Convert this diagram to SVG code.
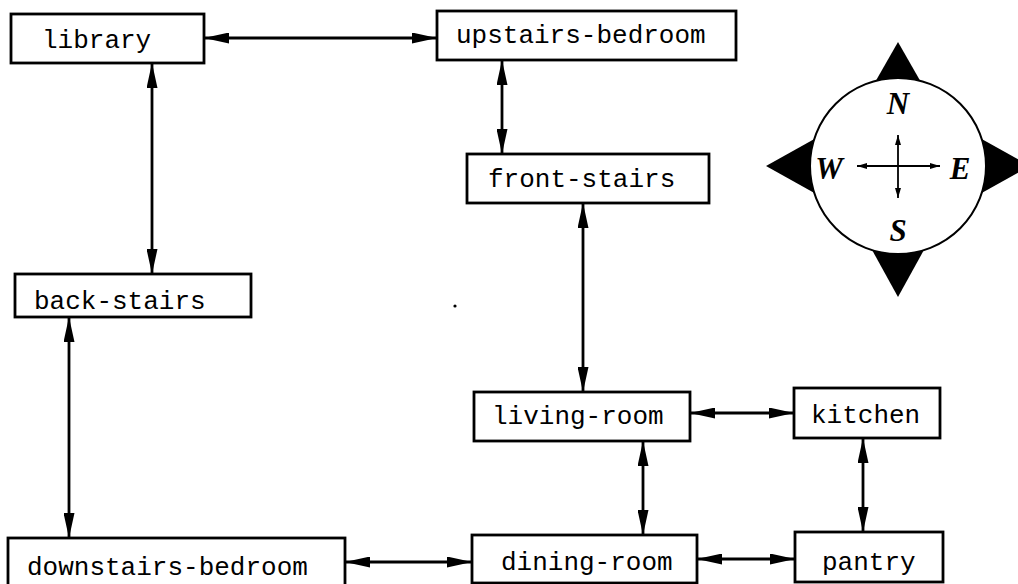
<svg xmlns="http://www.w3.org/2000/svg" width="1018" height="584" viewBox="0 0 1018 584">
  <style>
    .room rect { fill: #fff; stroke: #000; stroke-width: 2.8; }
    .room text { font-family: "Liberation Mono", "Courier New", monospace; font-size: 26px; fill: #000; }
    .link { stroke: #000; stroke-width: 2.8; fill: none; marker-start: url(#head); marker-end: url(#head); }
    .dir { font-family: "Liberation Serif", "Times New Roman", serif; font-weight: bold; font-style: italic; font-size: 31px; fill: #000; text-anchor: middle; }
    .cross { stroke: #000; stroke-width: 1.8; fill: none; marker-start: url(#small); marker-end: url(#small); }
  </style>
  <defs>
    <marker id="head" markerUnits="userSpaceOnUse" markerWidth="25" markerHeight="11" refX="25" refY="5.5" orient="auto-start-reverse">
      <path d="M0,0 L25,5.5 L0,11 Z" fill="#000"/>
    </marker>
    <marker id="small" markerUnits="userSpaceOnUse" markerWidth="10" markerHeight="6" refX="10" refY="3" orient="auto-start-reverse">
      <path d="M0,0 L10,3 L0,6 Z" fill="#000"/>
    </marker>
  </defs>
  <rect width="1018" height="584" fill="#fff"/>

  <!-- connectors between rooms -->
  <g id="connectors">
    <line class="link" x1="204" y1="38" x2="437" y2="38"/>
    <line class="link" x1="152" y1="63" x2="152" y2="274"/>
    <line class="link" x1="502" y1="60" x2="502" y2="154"/>
    <line class="link" x1="583" y1="203" x2="583" y2="392"/>
    <line class="link" x1="69" y1="317" x2="69" y2="538"/>
    <line class="link" x1="345" y1="562" x2="472" y2="562"/>
    <line class="link" x1="690" y1="413" x2="794" y2="413"/>
    <line class="link" x1="643" y1="441" x2="643" y2="535"/>
    <line class="link" x1="863" y1="438" x2="863" y2="532"/>
    <line class="link" x1="697" y1="559" x2="795" y2="559"/>
  </g>

  <!-- rooms -->
  <g id="library" class="room">
    <rect x="11" y="14" width="193" height="49"/>
    <text x="42" y="48">library</text>
  </g>
  <g id="upstairs-bedroom" class="room">
    <rect x="437" y="11" width="299" height="49"/>
    <text x="456" y="43">upstairs-bedroom</text>
  </g>
  <g id="front-stairs" class="room">
    <rect x="467" y="154" width="242" height="49"/>
    <text x="488" y="187">front-stairs</text>
  </g>
  <g id="back-stairs" class="room">
    <rect x="15" y="274" width="236" height="43"/>
    <text x="34" y="309">back-stairs</text>
  </g>
  <g id="downstairs-bedroom" class="room">
    <rect x="8" y="538" width="337" height="50"/>
    <text x="27" y="575">downstairs-bedroom</text>
  </g>
  <g id="living-room" class="room">
    <rect x="474" y="392" width="216" height="49"/>
    <text x="492" y="424">living-room</text>
  </g>
  <g id="kitchen" class="room">
    <rect x="794" y="388" width="146" height="50"/>
    <text x="811" y="423">kitchen</text>
  </g>
  <g id="dining-room" class="room">
    <rect x="472" y="535" width="225" height="48"/>
    <text x="501" y="570">dining-room</text>
  </g>
  <g id="pantry" class="room">
    <rect x="795" y="532" width="148" height="50"/>
    <text x="822" y="570">pantry</text>
  </g>

  <!-- compass rose -->
  <g id="compass">
    <polygon points="898,42 850,126 946,126" fill="#000"/>
    <polygon points="898,297 850,210 946,210" fill="#000"/>
    <polygon points="766,166 852,118 852,214" fill="#000"/>
    <polygon points="1030,166 944,118 944,214" fill="#000"/>
    <circle cx="898" cy="166" r="88" fill="#fff" stroke="#000" stroke-width="2"/>
    <line class="cross" x1="857" y1="166" x2="940" y2="166"/>
    <line class="cross" x1="898" y1="135" x2="898" y2="198"/>
    <text class="dir" x="898" y="114">N</text>
    <text class="dir" x="829" y="179">W</text>
    <text class="dir" x="960" y="179">E</text>
    <text class="dir" x="898" y="241">S</text>
  </g>

  <circle cx="455" cy="306" r="1.6" fill="#000"/>
</svg>
